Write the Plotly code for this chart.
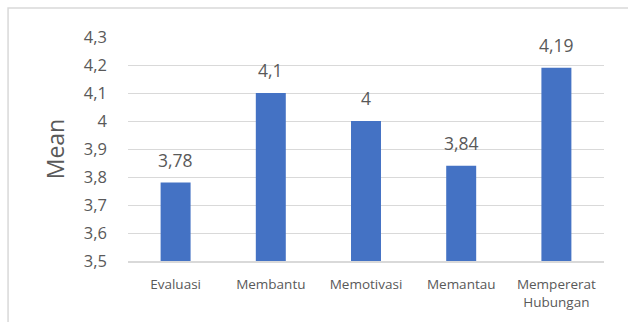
import plotly.graph_objects as go

categories = ["Evaluasi", "Membantu", "Memotivasi", "Memantau", "Mempererat<br>Hubungan"]
means = [3.78, 4.1, 4.0, 3.84, 4.19]
y_range = [3.5, 4.3]

labels = [f"{v:g}".replace(".", ",") for v in means]

fig = go.Figure(
    go.Bar(
        x=categories,
        y=means,
        marker=dict(color="#4472C4", line=dict(width=0)),
        hoverinfo="skip",
    )
)

for c, v, t in zip(categories, means, labels):
    fig.add_annotation(
        x=c, y=v, text=t, showarrow=False, yshift=23,
        font=dict(size=17.5, color="#595959"),
    )

# light outer frame around the chart area
fig.add_shape(
    type="rect", xref="paper", yref="paper",
    x0=-0.252, x1=1.08, y0=-0.5, y1=1.13,
    line=dict(color="#D9D9D9", width=1.5), fillcolor="rgba(0,0,0,0)",
    layer="below",
)

fig.update_layout(
    width=628, height=322,
    margin=dict(l=128, r=24, t=37, b=61),
    paper_bgcolor="white", plot_bgcolor="white",
    separators=", ",
    bargap=0.685,
    showlegend=False,
    font=dict(family="Open Sans, Liberation Sans, sans-serif", color="#595959"),
    xaxis=dict(
        showgrid=False, showline=True, linecolor="#D9D9D9", linewidth=1.5,
        ticks="", tickfont=dict(size=13.5, color="#595959"), ticklabelstandoff=10,
    ),
    yaxis=dict(
        range=y_range, dtick=0.1, tick0=3.5,
        showgrid=True, gridcolor="#D9D9D9", gridwidth=1.2,
        zeroline=False, showline=False, ticks="",
        tickfont=dict(size=16.5, color="#595959"), ticklabelstandoff=20,
        title=dict(text="Mean", font=dict(size=23, color="#595959"), standoff=12),
    ),
)

fig.write_html("out.html")
